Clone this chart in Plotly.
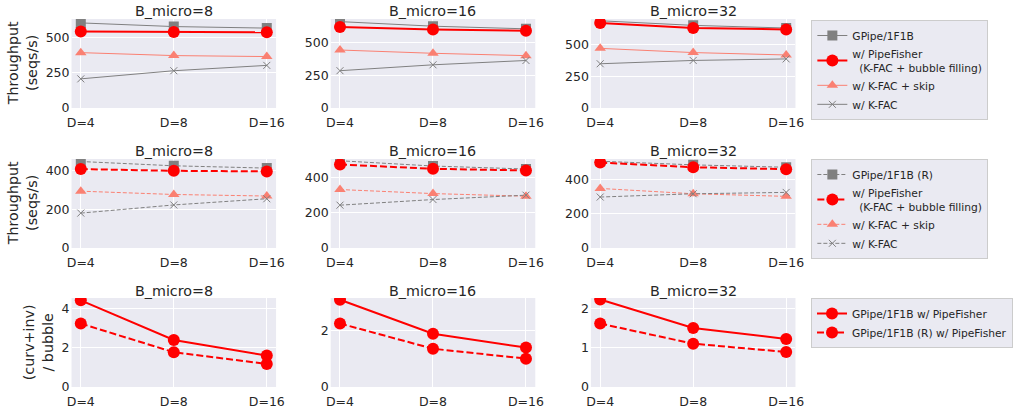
import plotly.graph_objects as go

# ---------------- data ----------------
D_LABELS = ["D=4", "D=8", "D=16"]
B_MICRO = [8, 16, 32]

# Row 1: throughput (seqs/s)
gpipe = [[607, 581, 570], [660, 625, 605], [686, 650, 629]]
pipefisher = [[546, 542, 540], [618, 600, 590], [668, 630, 618]]
kfac_skip = [[395, 374, 367], [443, 418, 400], [469, 436, 417]]
kfac = [[208, 266, 304], [285, 330, 363], [348, 374, 386]]

# Row 2: throughput (seqs/s), recomputation variant (R)
gpipe_r = [[446, 424, 412], [497, 467, 450], [504, 483, 469]]
pipefisher_r = [[407, 398, 395], [476, 451, 442], [496, 469, 458]]
kfac_skip_r = [[293, 276, 268], [333, 310, 295], [346, 315, 300]]
kfac_r = [[180, 222, 254], [244, 276, 301], [296, 315, 323]]

# Row 3: (curv+inv) / bubble
ratio = [[4.44, 2.41, 1.61], [3.08, 1.88, 1.39], [2.22, 1.50, 1.22]]
ratio_r = [[3.25, 1.78, 1.18], [2.24, 1.35, 1.00], [1.61, 1.10, 0.89]]

# ---------------- layout helpers ----------------
W, H = 1013, 413
COLS_PX = [(72, 278), (333, 539), (595, 801)]
ROWS_PX = [(19, 108), (159, 248), (298, 387)]
Y_RANGES = [[(0, 635), (0, 680), (0, 700)],
            [(0, 459), (0, 507), (0, 517)],
            [(0, 4.56), (0, 3.14), (0, 2.26)]]
Y_TICKS = [[[0, 250, 500]] * 3,
           [[0, 200, 400]] * 3,
           [[0, 2, 4], [0, 2], [0, 1, 2]]]

TXT = "#262626"
FONT = "DejaVu Sans"
GRAY = "#808080"
SALMON = "#FA8072"
RED = "#FF0000"

fig = go.Figure()


def ax_id(r, c):
    return r * 3 + c + 1


def add(r, c, y, name, color, width, symbol, msize, dash, legend, mline=None):
    k = ax_id(r, c)
    marker = dict(symbol=symbol, size=msize, color=color)
    if mline:
        marker["line"] = dict(color=color, width=mline)
    fig.add_trace(go.Scatter(
        x=D_LABELS, y=y, name=name, mode="lines+markers",
        line=dict(color=color, width=width, dash=dash),
        marker=marker,
        xaxis="x" if k == 1 else f"x{k}", yaxis="y" if k == 1 else f"y{k}",
        legend=legend, showlegend=(c == 0),
    ))


PF_NAME = "w/ PipeFisher<br>\u00a0\u00a0(K-FAC + bubble filling)"
for c in range(3):
    # row 1
    add(0, c, gpipe[c], "GPipe/1F1B", GRAY, 1, "square", 10, "solid", "legend")
    add(0, c, pipefisher[c], PF_NAME, RED, 2, "circle", 12, "solid", "legend")
    add(0, c, kfac_skip[c], "w/ K-FAC + skip", SALMON, 1, "triangle-up", 10, "solid", "legend")
    add(0, c, kfac[c], "w/ K-FAC", GRAY, 1, "x-thin", 7, "solid", "legend", mline=1)
    # row 2
    add(1, c, gpipe_r[c], "GPipe/1F1B (R)", GRAY, 1, "square", 10, "4px,2px", "legend2")
    add(1, c, pipefisher_r[c], PF_NAME, RED, 2, "circle", 12, "7px,3px", "legend2")
    add(1, c, kfac_skip_r[c], "w/ K-FAC + skip", SALMON, 1, "triangle-up", 10, "4px,2px", "legend2")
    add(1, c, kfac_r[c], "w/ K-FAC", GRAY, 1, "x-thin", 7, "4px,2px", "legend2", mline=1)
    # row 3
    add(2, c, ratio[c], "GPipe/1F1B w/ PipeFisher", RED, 2, "circle", 12, "solid", "legend3")
    add(2, c, ratio_r[c], "GPipe/1F1B (R) w/ PipeFisher", RED, 2, "circle", 12, "7px,3px", "legend3")

layout = dict(
    width=W, height=H,
    margin=dict(l=0, r=0, t=0, b=0),
    paper_bgcolor="white", plot_bgcolor="#EAEAF2",
    font=dict(family=FONT, color=TXT, size=12.5),
    annotations=[],
)

for r in range(3):
    for c in range(3):
        k = ax_id(r, c)
        x0, x1 = COLS_PX[c]
        y0, y1 = ROWS_PX[r]
        xs = "xaxis" if k == 1 else f"xaxis{k}"
        ys = "yaxis" if k == 1 else f"yaxis{k}"
        layout[xs] = dict(
            domain=[x0 / W, x1 / W], anchor="y" if k == 1 else f"y{k}",
            type="category", categoryorder="array", categoryarray=D_LABELS,
            range=[-0.1, 2.1], showgrid=True, gridcolor="white", gridwidth=1,
            zeroline=False, showline=False, ticks="", automargin=False,
            ticklabelstandoff=5,
            tickfont=dict(size=12.5, color=TXT, family=FONT),
        )
        layout[ys] = dict(
            domain=[1 - y1 / H, 1 - y0 / H], anchor="x" if k == 1 else f"x{k}",
            range=list(Y_RANGES[r][c]), tickvals=Y_TICKS[r][c],
            showgrid=True, gridcolor="white", gridwidth=1,
            zeroline=False, showline=False, ticks="", automargin=False,
            ticklabelstandoff=1,
            tickfont=dict(size=12.5, color=TXT, family=FONT),
        )
        title_y = [11.5, 151.5, 290.5][r]
        layout["annotations"].append(dict(
            text=f"B_micro={B_MICRO[c]}", x=(x0 + x1) / 2 / W, y=1 - title_y / H,
            xref="paper", yref="paper", xanchor="center", yanchor="middle",
            showarrow=False, font=dict(size=14.3, color=TXT, family=FONT),
        ))

Y_TITLES = ["Throughput<br>(seqs/s)", "Throughput<br>(seqs/s)", "(curv+inv)<br>/ bubble"]
Y_TITLE_X = [23, 23, 39]
for r in range(3):
    y0, y1 = ROWS_PX[r]
    layout["annotations"].append(dict(
        text=Y_TITLES[r], x=Y_TITLE_X[r] / W, y=1 - (y0 + y1) / 2 / H,
        xref="paper", yref="paper", xanchor="center", yanchor="middle",
        textangle=-90, showarrow=False,
        font=dict(size=14.3, color=TXT, family=FONT),
    ))

LEG_Y = [20, 159, 298]
for i, key in enumerate(["legend", "legend2", "legend3"]):
    layout[key] = dict(
        x=817 / W, y=1 - LEG_Y[i] / H, xanchor="left", yanchor="top",
        bgcolor="#EAEAF2", bordercolor="#CCCCCC", borderwidth=1,
        font=dict(size=10.7, color=TXT, family=FONT),
        itemwidth=30, tracegroupgap=0,
    )

fig.update_layout(**layout)
fig.write_html("out.html")
